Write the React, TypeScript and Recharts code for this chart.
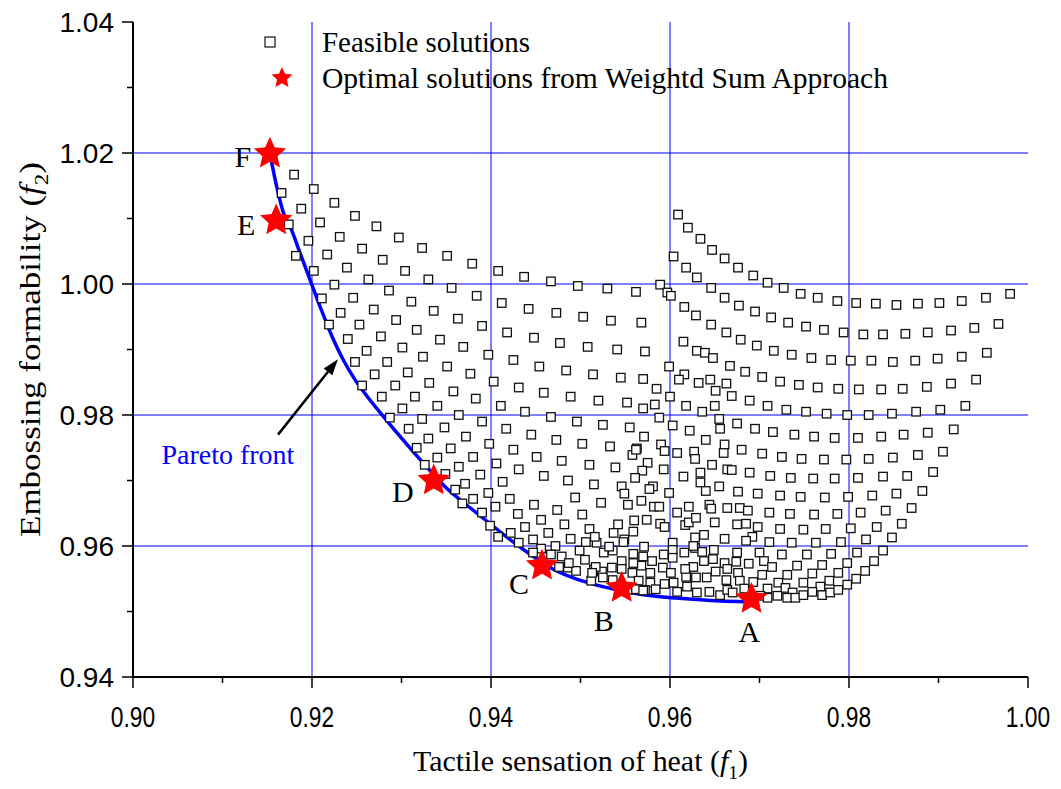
import React from "react";
import {
  ComposedChart, Scatter, Line, XAxis, YAxis, ReferenceLine, ReferenceDot, Legend,
} from "recharts";

type Pt = [number, number];

// axis ticks (minor ticks at odd hundredths carry no label)
const xTicks = [0.9, 0.91, 0.92, 0.93, 0.94, 0.95, 0.96, 0.97, 0.98, 0.99, 1.0];
const yTicks = [0.94, 0.95, 0.96, 0.97, 0.98, 0.99, 1.0, 1.01, 1.02, 1.03, 1.04];
const xGrid = [0.92, 0.94, 0.96, 0.98];
const yGrid = [0.96, 0.98, 1.0, 1.02];

// feasible solutions (f1, f2)
const leftFan: Pt[] = [
  [0.918, 1.0167], [0.9166, 1.0139], [0.9202, 1.0145], [0.9225, 1.0124], [0.9188, 1.0115], [0.9248, 1.0104],
  [0.9174, 1.0091], [0.9209, 1.0094], [0.9272, 1.0088], [0.9231, 1.0072], [0.9196, 1.0066], [0.9297, 1.0071],
  [0.9323, 1.0055], [0.9256, 1.0054], [0.9217, 1.0045], [0.9182, 1.0043], [0.9279, 1.0037], [0.9239, 1.0025],
  [0.9202, 1.002], [0.9304, 1.002], [0.933, 1.0007], [0.9263, 1.0007], [0.9225, 0.9999], [0.9286, 0.999],
  [0.9211, 0.9978], [0.9246, 0.9979], [0.9311, 0.9973], [0.9269, 0.9961], [0.9232, 0.9956], [0.9219, 0.9938],
  [0.9253, 0.9938], [0.9294, 0.9945], [0.9317, 0.993], [0.9277, 0.992], [0.924, 0.9916], [0.9261, 0.9898],
  [0.9301, 0.9903], [0.9324, 0.9889], [0.9248, 0.9881], [0.9284, 0.9881], [0.927, 0.9862], [0.9307, 0.9865],
  [0.9256, 0.9845], [0.9293, 0.9845], [0.9331, 0.9849], [0.9278, 0.9828], [0.9315, 0.9828], [0.9301, 0.981],
  [0.9287, 0.9796], [0.9323, 0.9794], [0.9308, 0.9779], [0.933, 0.9764], [0.9317, 0.975], [0.934, 0.9735],
  [0.9326, 0.9724], [0.9349, 0.971], [0.936, 0.9686],
];

const midRows: Pt[] = [
  [0.9351, 1.0043], [0.9379, 1.0031], [0.9408, 1.002], [0.9437, 1.0011], [0.9467, 1.0004], [0.9497, 0.9997], [0.953, 0.9993], [0.9562, 0.9988],
  [0.9356, 0.9994], [0.9384, 0.9982], [0.9412, 0.9971], [0.9442, 0.9962], [0.9473, 0.9956], [0.9503, 0.995], [0.9534, 0.9944], [0.9568, 0.9941],
  [0.9336, 0.9959], [0.9363, 0.9947], [0.939, 0.9936], [0.9418, 0.9926], [0.9448, 0.9918], [0.9477, 0.991], [0.9508, 0.9904], [0.9541, 0.99], [0.9572, 0.9897],
  [0.9343, 0.9915], [0.9369, 0.9904], [0.9397, 0.9892], [0.9425, 0.9884], [0.9454, 0.9874], [0.9484, 0.9868], [0.9514, 0.9862], [0.9545, 0.9857], [0.957, 0.9855],
  [0.9351, 0.9874], [0.9377, 0.9863], [0.9403, 0.9851], [0.9431, 0.9842], [0.9459, 0.9834], [0.9489, 0.9828], [0.952, 0.9822], [0.9552, 0.9819], [0.9583, 0.9816],
  [0.9358, 0.9836], [0.9383, 0.9825], [0.9411, 0.9814], [0.9438, 0.9805], [0.9467, 0.9797], [0.9496, 0.979], [0.9525, 0.9785], [0.9555, 0.9781],
  [0.934, 0.9814], [0.9364, 0.98], [0.939, 0.979], [0.9417, 0.9779], [0.9445, 0.977], [0.9473, 0.9762], [0.9502, 0.9756], [0.9533, 0.9752], [0.9563, 0.9749],
  [0.9348, 0.9781], [0.9372, 0.9767], [0.9398, 0.9756], [0.9425, 0.9747], [0.9451, 0.9736], [0.9479, 0.973], [0.951, 0.9724], [0.9539, 0.972],
  [0.9355, 0.9749], [0.938, 0.9736], [0.9406, 0.9726], [0.9431, 0.9717], [0.9459, 0.9707], [0.9486, 0.97], [0.9515, 0.9694], [0.9546, 0.9691],
  [0.9364, 0.9721], [0.9388, 0.9709], [0.9413, 0.9698],
  [0.9371, 0.9695], [0.9397, 0.9681], [0.9421, 0.9672], [0.9448, 0.9663], [0.9474, 0.9655], [0.9494, 0.9674], [0.9523, 0.9666], [0.9549, 0.968], [0.9553, 0.9663],
  [0.938, 0.9672], [0.9368, 0.9665], [0.939, 0.9651], [0.9405, 0.966], [0.943, 0.9649], [0.9456, 0.964], [0.9482, 0.9633], [0.9502, 0.9648], [0.951, 0.9626],
  [0.9542, 0.9633], [0.9537, 0.962], [0.956, 0.9639],
];

const lowerBand: Pt[] = [
  [0.9399, 0.9631], [0.9408, 0.9614], [0.9422, 0.962], [0.9438, 0.9629], [0.9447, 0.961], [0.9464, 0.962], [0.9489, 0.9611], [0.9518, 0.9605],
  [0.9549, 0.961], [0.9559, 0.9622], [0.9431, 0.9605], [0.9472, 0.96], [0.9499, 0.9593], [0.9526, 0.959], [0.9536, 0.9593], [0.9546, 0.9577],
  [0.9559, 0.9588], [0.957, 0.9584], [0.958, 0.9577], [0.9479, 0.9584], [0.9486, 0.9567], [0.9505, 0.9579], [0.9495, 0.9562], [0.9515, 0.9564],
  [0.9524, 0.9561], [0.9535, 0.9567], [0.9558, 0.9559], [0.9568, 0.957], [0.9578, 0.9559], [0.9512, 0.9547], [0.9525, 0.9552], [0.9536, 0.9548],
  [0.9565, 0.9547], [0.9578, 0.9544], [0.9553, 0.9533], [0.9562, 0.9534], [0.9572, 0.9533], [0.9584, 0.9534], [0.9506, 0.9606], [0.9516, 0.9614],
  [0.9548, 0.9606], [0.9571, 0.9599], [0.9456, 0.9596], [0.9467, 0.9587], [0.9532, 0.9599], [0.9517, 0.9568], [0.9546, 0.9565], [0.9559, 0.9574],
  [0.9476, 0.9568], [0.9447, 0.959], [0.9487, 0.9574], [0.9513, 0.9559], [0.957, 0.9532],
];

const centerCluster: Pt[] = [
  [0.9589, 0.9999], [0.9597, 0.9987], [0.9601, 0.9982],
  [0.9599, 0.9874], [0.9616, 0.9862], [0.961, 0.9854], [0.9632, 0.9849], [0.9645, 0.9854], [0.9663, 0.9848], [0.9585, 0.984], [0.96, 0.9828],
  [0.9618, 0.9814], [0.9651, 0.9837], [0.965, 0.9814], [0.957, 0.981], [0.9588, 0.9796], [0.9603, 0.9784], [0.9622, 0.9776], [0.9636, 0.9805],
  [0.9655, 0.9794], [0.9656, 0.9779], [0.964, 0.9762], [0.9661, 0.9755], [0.9571, 0.9767], [0.959, 0.9755], [0.9594, 0.9745], [0.9608, 0.9742],
  [0.9627, 0.9744], [0.9628, 0.9733], [0.966, 0.9742], [0.9558, 0.9739], [0.9562, 0.9747], [0.9575, 0.9727], [0.9569, 0.9715], [0.9593, 0.9717],
  [0.9615, 0.9706], [0.9634, 0.9712], [0.9647, 0.9724], [0.9664, 0.9717], [0.9561, 0.9704], [0.9581, 0.9691], [0.9577, 0.9687], [0.9599, 0.9681],
  [0.9634, 0.9697], [0.9655, 0.9691], [0.964, 0.9684], [0.9568, 0.9669], [0.9582, 0.966], [0.9588, 0.966], [0.9608, 0.9651], [0.9621, 0.966],
  [0.9617, 0.9632], [0.9644, 0.9663], [0.9646, 0.9657], [0.9664, 0.9658], [0.9574, 0.964], [0.9589, 0.9634], [0.9594, 0.9629], [0.9621, 0.9636],
  [0.9629, 0.9643], [0.965, 0.9636], [0.9638, 0.9617], [0.9603, 0.9605], [0.9603, 0.9594], [0.9628, 0.9613], [0.9628, 0.9597], [0.9661, 0.9611],
  [0.9649, 0.9594], [0.9593, 0.9587], [0.9603, 0.9582], [0.9616, 0.959], [0.9636, 0.9591], [0.9638, 0.9577], [0.9661, 0.9574], [0.9592, 0.9567],
  [0.9601, 0.9559], [0.9618, 0.9553], [0.9626, 0.9568], [0.9641, 0.9552], [0.9651, 0.9561], [0.9663, 0.9548], [0.9594, 0.9542], [0.9608, 0.953],
  [0.9619, 0.9538], [0.963, 0.9529], [0.9644, 0.953], [0.9656, 0.9525], [0.9664, 0.9533], [0.9626, 0.96], [0.9648, 0.958], [0.9617, 0.9565],
  [0.9629, 0.9552], [0.9664, 0.9565], [0.9604, 0.9544],
];

const rightBowl: Pt[] = [
  [0.9609, 1.0106], [0.962, 1.0086], [0.9634, 1.0069], [0.9647, 1.0052], [0.9661, 1.0039], [0.9676, 1.0025], [0.9693, 1.0013], [0.9709, 1.0002],
  [0.9727, 0.9994], [0.9746, 0.9985], [0.9765, 0.9979], [0.9787, 0.9974], [0.9808, 0.9971], [0.983, 0.997], [0.9853, 0.9968], [0.9877, 0.997],
  [0.9901, 0.9971], [0.9926, 0.9974], [0.9953, 0.9979], [0.998, 0.9985],
  [0.9604, 1.0042], [0.9618, 1.0025], [0.963, 1.001], [0.9646, 0.9994], [0.9661, 0.9979], [0.9677, 0.9967], [0.9695, 0.9958], [0.9713, 0.9949],
  [0.9732, 0.9941], [0.9752, 0.9935], [0.9772, 0.993], [0.9794, 0.9926], [0.9816, 0.9923], [0.9838, 0.9923], [0.9863, 0.9924], [0.9888, 0.9926],
  [0.9914, 0.9929], [0.994, 0.9933], [0.9967, 0.9939],
  [0.9616, 0.9965], [0.9629, 0.9952], [0.9646, 0.9938], [0.9663, 0.9926], [0.9679, 0.9915], [0.9697, 0.9906], [0.9716, 0.9898], [0.9736, 0.9892],
  [0.9758, 0.9887], [0.978, 0.9884], [0.9802, 0.9883], [0.9825, 0.9883], [0.9849, 0.9881], [0.9874, 0.9883], [0.9899, 0.9886], [0.9926, 0.9889], [0.9954, 0.9895],
  [0.9615, 0.9912], [0.963, 0.9898], [0.9639, 0.9895], [0.9648, 0.9887], [0.9667, 0.9875], [0.9684, 0.9866], [0.9703, 0.9858], [0.9723, 0.9851],
  [0.9744, 0.9846], [0.9765, 0.9842], [0.9788, 0.984], [0.9811, 0.9839], [0.9836, 0.9839], [0.986, 0.984], [0.9887, 0.9843], [0.9914, 0.9848], [0.9942, 0.9854],
  [0.9669, 0.9829], [0.9689, 0.9822], [0.9709, 0.9814], [0.973, 0.9808], [0.9752, 0.9805], [0.9775, 0.9802], [0.9798, 0.98], [0.9822, 0.98],
  [0.9848, 0.9802], [0.9875, 0.9805], [0.9902, 0.9808], [0.993, 0.9814],
  [0.9675, 0.9787], [0.9695, 0.9779], [0.9715, 0.9774], [0.9739, 0.977], [0.9761, 0.9767], [0.9784, 0.9765], [0.981, 0.9765], [0.9836, 0.9767],
  [0.9861, 0.977], [0.9888, 0.9773], [0.9917, 0.9778],
  [0.968, 0.9747], [0.9703, 0.9741], [0.9725, 0.9736], [0.9747, 0.9733], [0.9772, 0.9732], [0.9797, 0.9732], [0.9822, 0.9733], [0.9849, 0.9735],
  [0.9877, 0.9739], [0.9905, 0.9744],
  [0.9669, 0.9716], [0.9689, 0.9712], [0.9712, 0.9707], [0.9735, 0.9704], [0.976, 0.9703], [0.9784, 0.9703], [0.981, 0.9704], [0.9838, 0.9706],
  [0.9865, 0.9707], [0.9894, 0.9713],
  [0.9676, 0.9683], [0.9698, 0.968], [0.9723, 0.9677], [0.9746, 0.9675], [0.9773, 0.9674], [0.9799, 0.9675], [0.9826, 0.9677], [0.9853, 0.968], [0.9882, 0.9684],
  [0.9678, 0.9658], [0.9687, 0.9654], [0.9711, 0.9651], [0.9734, 0.9649], [0.9761, 0.9648], [0.9787, 0.9649], [0.9813, 0.9651], [0.9841, 0.9654], [0.987, 0.9658],
  [0.9675, 0.9633], [0.9685, 0.9634], [0.9698, 0.9629], [0.9723, 0.9626], [0.9749, 0.9625], [0.9774, 0.9626], [0.9802, 0.9627], [0.9831, 0.9629], [0.9859, 0.9634],
  [0.9692, 0.9614], [0.9685, 0.9608], [0.9711, 0.9606], [0.9736, 0.9605], [0.9763, 0.9605], [0.9791, 0.9606], [0.9819, 0.961], [0.9848, 0.9613],
  [0.9675, 0.959], [0.97, 0.959], [0.9725, 0.9587], [0.9753, 0.9587], [0.978, 0.9588], [0.9809, 0.959], [0.9838, 0.9593],
  [0.9674, 0.9576], [0.9688, 0.9573], [0.9705, 0.9577], [0.9714, 0.9568], [0.9742, 0.957], [0.977, 0.9571], [0.9798, 0.9574], [0.9828, 0.9577],
  [0.9676, 0.9559], [0.9703, 0.9556], [0.9731, 0.9556], [0.9759, 0.9558], [0.9788, 0.9559], [0.9818, 0.9562],
  [0.9678, 0.9547], [0.9693, 0.9545], [0.9721, 0.9544], [0.9749, 0.9544], [0.9778, 0.9547], [0.9808, 0.955],
  [0.967, 0.9529], [0.9683, 0.9535], [0.9709, 0.9535], [0.9729, 0.9536], [0.9737, 0.9529], [0.9768, 0.9538], [0.9798, 0.9541],
  [0.9701, 0.9524], [0.9709, 0.9521], [0.972, 0.9524], [0.9731, 0.9521], [0.974, 0.9521], [0.9749, 0.9525], [0.9759, 0.953], [0.977, 0.9525],
  [0.9779, 0.9529], [0.9788, 0.9533],
];

// weighted-sum optima
const optimalNames = ["F", "E", "D", "C", "B", "A"];
const optimalF1 = [0.9153, 0.916, 0.9336, 0.9457, 0.9546, 0.9691];
const optimalF2 = [1.0199, 1.0097, 0.97, 0.957, 0.9536, 0.9519];

// Pareto front trace
const paretoF1 = [0.9153, 0.916, 0.9168, 0.9177, 0.9187, 0.9199, 0.921, 0.9222, 0.9235, 0.9248, 0.9263, 0.9279,
  0.9296, 0.9313, 0.933, 0.9349, 0.9377, 0.9399, 0.9421, 0.9444, 0.9469, 0.9499, 0.9525, 0.9555, 0.9592, 0.9622,
  0.9656, 0.9684];
const paretoF2 = [1.0199, 1.0152, 1.0109, 1.0083, 1.0046, 1.0002, 0.9962, 0.9921, 0.9884, 0.9854, 0.9826, 0.9799,
  0.9771, 0.9744, 0.9718, 0.969, 0.9658, 0.9634, 0.961, 0.9587, 0.9565, 0.9548, 0.9538, 0.9529, 0.9522, 0.9519,
  0.9516, 0.9515];

const arrowFrom = { x: 0.9162, y: 0.977 };
const arrowTo = { x: 0.9229, y: 0.9885 };
const paretoLabelAt = { x: 0.9106, y: 0.9739 };

const feasible = [...leftFan, ...midRows, ...lowerBand, ...centerCluster, ...rightBowl].map(([x, y]) => ({ x, y }));
const optimal = optimalNames.map((name, i) => ({ name, x: optimalF1[i], y: optimalF2[i] }));
const pareto = paretoF1.map((x, i) => ({ x, y: paretoF2[i] }));

const SERIF = '"Liberation Serif", "Times New Roman", serif';
const SANS = '"Liberation Sans", Arial, sans-serif';
const BLUE = "#0000ff";

// where each letter sits relative to its star
const letterOffset: Record<string, [number, number]> = {
  F: [-27, 3], E: [-30, 5], D: [-31, 11], C: [-23, 18], B: [-18, 33], A: [-2, 33],
};

function starPoints(cx: number, cy: number, R: number, r: number) {
  const pts: string[] = [];
  for (let i = 0; i < 10; i++) {
    const a = -Math.PI / 2 + (i * Math.PI) / 5;
    const rad = i % 2 === 0 ? R : r;
    pts.push(`${cx + rad * Math.cos(a)},${cy + rad * Math.sin(a)}`);
  }
  return pts.join(" ");
}

const SquareShape = (p: any) => (
  <rect x={p.cx - 4.25} y={p.cy - 4.25} width={8.5} height={8.5} fill="#fff" stroke="#111" strokeWidth={1.3} />
);

const StarShape = (p: any) => {
  const [dx, dy] = letterOffset[p.payload.name] ?? [0, 0];
  return (
    <g>
      <polygon points={starPoints(p.cx, p.cy, 17, 8)} fill="#ff0000" />
      <text x={p.cx + dx} y={p.cy + dy + 10} textAnchor="middle" fontFamily={SERIF} fontSize={30} fill="#000">
        {p.payload.name}
      </text>
    </g>
  );
};

// x labels are drawn narrow, as in the source figure
const XTick = ({ x, y, payload }: any) => {
  const v = payload.value as number;
  const major = Math.round(v * 100) % 2 === 0;
  return (
    <g>
      <line x1={x} x2={x} y1={y} y2={y + (major ? 11 : 6)} stroke="#000" strokeWidth={1.5} />
      {major && (
        <text transform={`translate(${x} ${y + 50}) scale(0.76 1)`} textAnchor="middle" fontFamily={SANS} fontSize={30}>
          {v.toFixed(2)}
        </text>
      )}
    </g>
  );
};

const YTick = ({ x, y, payload }: any) => {
  const v = payload.value as number;
  const major = Math.round(v * 100) % 2 === 0;
  return (
    <g>
      <line x1={x - (major ? 11 : 6)} x2={x} y1={y} y2={y} stroke="#000" strokeWidth={1.5} />
      {major && (
        <text x={x - 19} y={y + 10} textAnchor="end" fontFamily={SANS} fontSize={28}>
          {v.toFixed(2)}
        </text>
      )}
    </g>
  );
};

const XTitle = ({ viewBox }: any) => (
  <text x={viewBox.x + viewBox.width / 2} y={viewBox.y + 94} textAnchor="middle" fontFamily={SERIF} fontSize={29}
    textLength={335} lengthAdjust="spacingAndGlyphs">
    Tactile sensation of heat (<tspan fontStyle="italic">f</tspan>
    <tspan fontSize={19} dy={8}>1</tspan><tspan dy={-8}>)</tspan>
  </text>
);

const YTitle = ({ viewBox }: any) => {
  const cx = 40;
  const cy = viewBox.y + viewBox.height / 2;
  return (
    <text x={cx} y={cy} transform={`rotate(-90 ${cx} ${cy})`} textAnchor="middle" fontFamily={SERIF} fontSize={29}
      textLength={375} lengthAdjust="spacingAndGlyphs">
      Embossing formability (<tspan fontStyle="italic">f</tspan>
      <tspan fontSize={19} dy={8}>2</tspan><tspan dy={-8}>)</tspan>
    </text>
  );
};

const Arrow = (p: any) => {
  const { x1, y1, x2, y2 } = p;
  const a = Math.atan2(y2 - y1, x2 - x1);
  const L = 16, W = 5.5;
  const bx = x2 - L * Math.cos(a), by = y2 - L * Math.sin(a);
  const nx = -Math.sin(a) * W, ny = Math.cos(a) * W;
  return (
    <g>
      <line x1={x1} y1={y1} x2={bx} y2={by} stroke="#000" strokeWidth={2.5} />
      <polygon points={`${x2},${y2} ${bx + nx},${by + ny} ${bx - nx},${by - ny}`} fill="#000" />
    </g>
  );
};

const ParetoLabel = (p: any) => (
  <text x={p.cx} y={p.cy + 9} textAnchor="middle" fontFamily={SERIF} fontSize={28} fill={BLUE}>Pareto front</text>
);

const LegendBox = () => (
  <svg width={1061} height={100} style={{ display: "block" }}>
    <rect x={265} y={37} width={10} height={10} fill="#fff" stroke="#111" strokeWidth={1.2} />
    <text x={322} y={52} fontFamily={SERIF} fontSize={29} textLength={208} lengthAdjust="spacingAndGlyphs">Feasible solutions</text>
    <polygon points={starPoints(282, 78, 11, 5.2)} fill="#ff0000" />
    <text x={322} y={88} fontFamily={SERIF} fontSize={29} textLength={566} lengthAdjust="spacingAndGlyphs">
      Optimal solutions from Weightd Sum Approach
    </text>
  </svg>
);

export default function App() {
  return (
    <div style={{ position: "absolute", left: 0, top: 0, background: "#fff" }}>
      <ComposedChart width={1061} height={789} margin={{ top: 22, right: 33, bottom: 0, left: 0 }}>
        <XAxis type="number" dataKey="x" domain={[0.9, 1.0]} ticks={xTicks} interval={0} allowDataOverflow
          height={112} tickSize={0} tickMargin={0} tickLine={false} tick={<XTick />}
          axisLine={{ stroke: "#000", strokeWidth: 2 }} label={(props: any) => <XTitle {...props} />} />
        <YAxis type="number" dataKey="y" domain={[0.94, 1.04]} ticks={yTicks} interval={0} allowDataOverflow
          width={133} tickSize={0} tickMargin={0} tickLine={false} tick={<YTick />}
          axisLine={{ stroke: "#000", strokeWidth: 2 }} label={(props: any) => <YTitle {...props} />} />
        {xGrid.map((v) => <ReferenceLine key={`vx${v}`} x={v} stroke="#7f7fff" strokeWidth={2} />)}
        {yGrid.map((v) => <ReferenceLine key={`hy${v}`} y={v} stroke={BLUE} strokeWidth={1.2} />)}
        <Legend verticalAlign="middle" align="center" layout="horizontal" content={<LegendBox />}
          wrapperStyle={{ top: 0, left: 0, width: 1061, height: 100 }} />
        <Scatter name="Feasible solutions" data={feasible} shape={SquareShape} isAnimationActive={false} />
        <Line data={pareto} dataKey="y" type="monotone" stroke={BLUE} strokeWidth={3.5} dot={false} activeDot={false}
          isAnimationActive={false} legendType="none" />
        <ReferenceLine segment={[arrowFrom, arrowTo]} shape={Arrow} />
        <ReferenceDot x={paretoLabelAt.x} y={paretoLabelAt.y} r={0} shape={ParetoLabel} />
        <Scatter name="Optimal solutions from Weightd Sum Approach" data={optimal} shape={StarShape} isAnimationActive={false} />
      </ComposedChart>
    </div>
  );
}
